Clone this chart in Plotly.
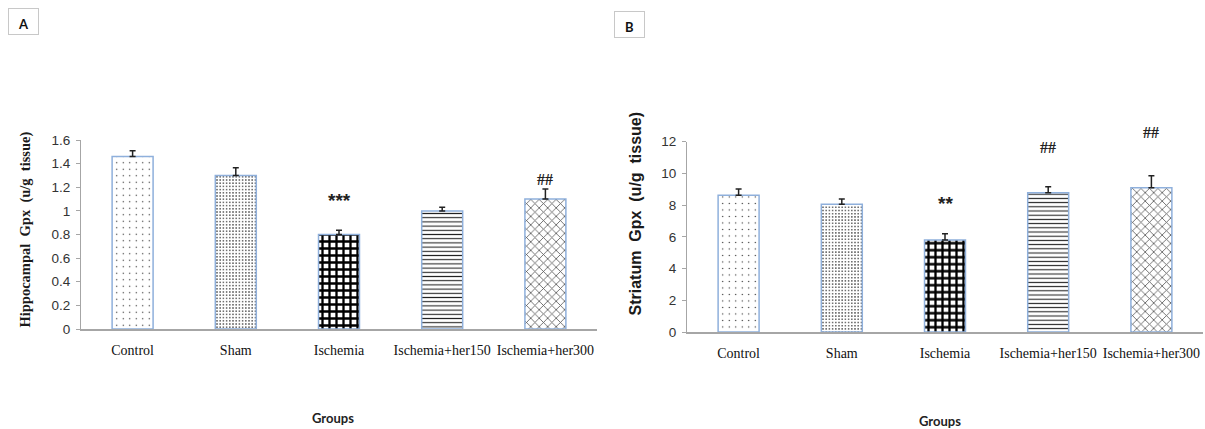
import plotly.graph_objects as go

# ---------------- data ----------------
groups = ["Control", "Sham", "Ischemia", "Ischemia+her150", "Ischemia+her300"]

hippo_gpx = [1.46, 1.30, 0.80, 1.00, 1.10]
hippo_err = [0.05, 0.065, 0.035, 0.03, 0.085]
hippo_sig = ["", "", "***", "", "##"]

striatum_gpx = [8.62, 8.05, 5.80, 8.78, 9.10]
striatum_err = [0.40, 0.34, 0.40, 0.38, 0.76]
striatum_sig = ["", "", "**", "##", "##"]

y_ticks_a = [0, 0.2, 0.4, 0.6, 0.8, 1.0, 1.2, 1.4, 1.6]
y_ticks_b = [0, 2, 4, 6, 8, 10, 12]

# ---------------- styles ----------------
W, H = 1205, 429
pat_shape = [".", ".", "+", "-", "x"]
pat_size = [6.5, 3.2, 7, 4.2, 6]
pat_solid = [0.03, 0.17, 0.55, 0.26, 0.25]
pat_fg = ["#222222", "#333333", "#000000", "#222222", "#555555"]
sig_shift_a = [0, 0, 30, 0, 10]
sig_shift_b = [0, 0, 30, 39, 43]
outline = "#8fb0dc"
axis_grey = "#a6a6a6"


def px_x(p):
    return p / W


def px_y(p):
    return 1 - p / H


fig = go.Figure()

for vals, errs, xa, ya in [
    (hippo_gpx, hippo_err, "x", "y"),
    (striatum_gpx, striatum_err, "x2", "y2"),
]:
    fig.add_trace(go.Bar(
        x=groups, y=vals, xaxis=xa, yaxis=ya,
        marker=dict(
            color="white",
            line=dict(color=outline, width=1.5),
            pattern=dict(shape=pat_shape, size=pat_size, solidity=pat_solid,
                         fgcolor=pat_fg, bgcolor="white", fillmode="replace"),
        ),
        error_y=dict(type="data", symmetric=False, array=errs,
                     arrayminus=[0] * len(errs), color="#222222",
                     thickness=1.5, width=3),
        showlegend=False, hoverinfo="x+y",
    ))

xcommon = dict(type="category", range=[-0.5, 4.5], showline=True,
               linecolor=axis_grey, linewidth=2, ticks="", showgrid=False,
               zeroline=False, ticklabelstandoff=7, automargin=False,
               tickfont=dict(family="Liberation Serif", size=14, color="#111"))
ycommon = dict(showline=True, linecolor=axis_grey, linewidth=1, ticks="outside",
               ticklen=4, tickcolor=axis_grey, showgrid=False, zeroline=False,
               ticklabelstandoff=3, automargin=False,
               tickfont=dict(family="Liberation Sans", size=13.5, color="#333"))

fig.update_layout(
    width=W, height=H, margin=dict(l=0, r=0, t=0, b=0, pad=0),
    paper_bgcolor="white", plot_bgcolor="white", bargap=0.603,
    xaxis=dict(domain=[px_x(81), px_x(597)], anchor="y", **xcommon),
    xaxis2=dict(domain=[px_x(687), px_x(1203)], anchor="y2", **xcommon),
    yaxis=dict(domain=[px_y(329), px_y(140)], anchor="x", range=[0, 1.6],
               tickvals=y_ticks_a, **ycommon),
    yaxis2=dict(domain=[px_y(332), px_y(141.7)], anchor="x2", range=[0, 12],
                tickvals=y_ticks_b, **ycommon),
)

annotations = []
# significance marks
for vals, errs, sigs, shifts, xr, yr in [
    (hippo_gpx, hippo_err, hippo_sig, sig_shift_a, "x", "y"),
    (striatum_gpx, striatum_err, striatum_sig, sig_shift_b, "x2", "y2"),
]:
    for g, v, e, s, sh in zip(groups, vals, errs, sigs, shifts):
        if not s:
            continue
        if s.startswith("*"):
            font = dict(family="Liberation Sans", size=19, color="#222")
        else:
            font = dict(family="Liberation Serif", size=16, color="#222")
        annotations.append(dict(x=g, y=v + e, xref=xr, yref=yr, text=f"<b>{s}</b>",
                                showarrow=False, yanchor="middle", yshift=sh,
                                font=font))

# y-axis titles
annotations.append(dict(
    x=px_x(25), y=px_y(229.5), xref="paper", yref="paper", showarrow=False,
    text="<b>Hippocampal\u00a0 Gpx\u00a0 (u/g\u00a0 tissue)</b>", textangle=-90,
    font=dict(family="Liberation Serif", size=14.5, color="#1a1a1a"),
    xanchor="center", yanchor="middle"))
annotations.append(dict(
    x=px_x(635), y=px_y(213.5), xref="paper", yref="paper", showarrow=False,
    text="<b>Striatum\u00a0 Gpx\u00a0 (u/g\u00a0 tissue)</b>", textangle=-90,
    font=dict(family="Liberation Sans", size=16, color="#1a1a1a"),
    xanchor="center", yanchor="middle"))

# x-axis "Groups" titles
for xp, yp in [(333, 418), (940, 421)]:
    annotations.append(dict(
        x=px_x(xp), y=px_y(yp), xref="paper", yref="paper", showarrow=False,
        text="<b>Groups</b>", font=dict(family="Lato", size=13, color="#222"),
        xanchor="center", yanchor="middle"))

# panel letters
for letter, xp, yp in [("A", 23.5, 21.5), ("B", 629, 24.5)]:
    annotations.append(dict(
        x=px_x(xp), y=px_y(yp), xref="paper", yref="paper", showarrow=False,
        text=f"<b>{letter}</b>", font=dict(family="Lato", size=13, color="#111"),
        width=25, height=21, borderpad=2, bordercolor="#c8c8c8", borderwidth=1,
        xanchor="center", yanchor="middle", valign="bottom"))

fig.update_layout(annotations=annotations)

fig.write_html(
    "out.html",
    config={"displayModeBar": False},
    post_script="document.body.style.margin='0';document.body.style.overflow='hidden';",
)
